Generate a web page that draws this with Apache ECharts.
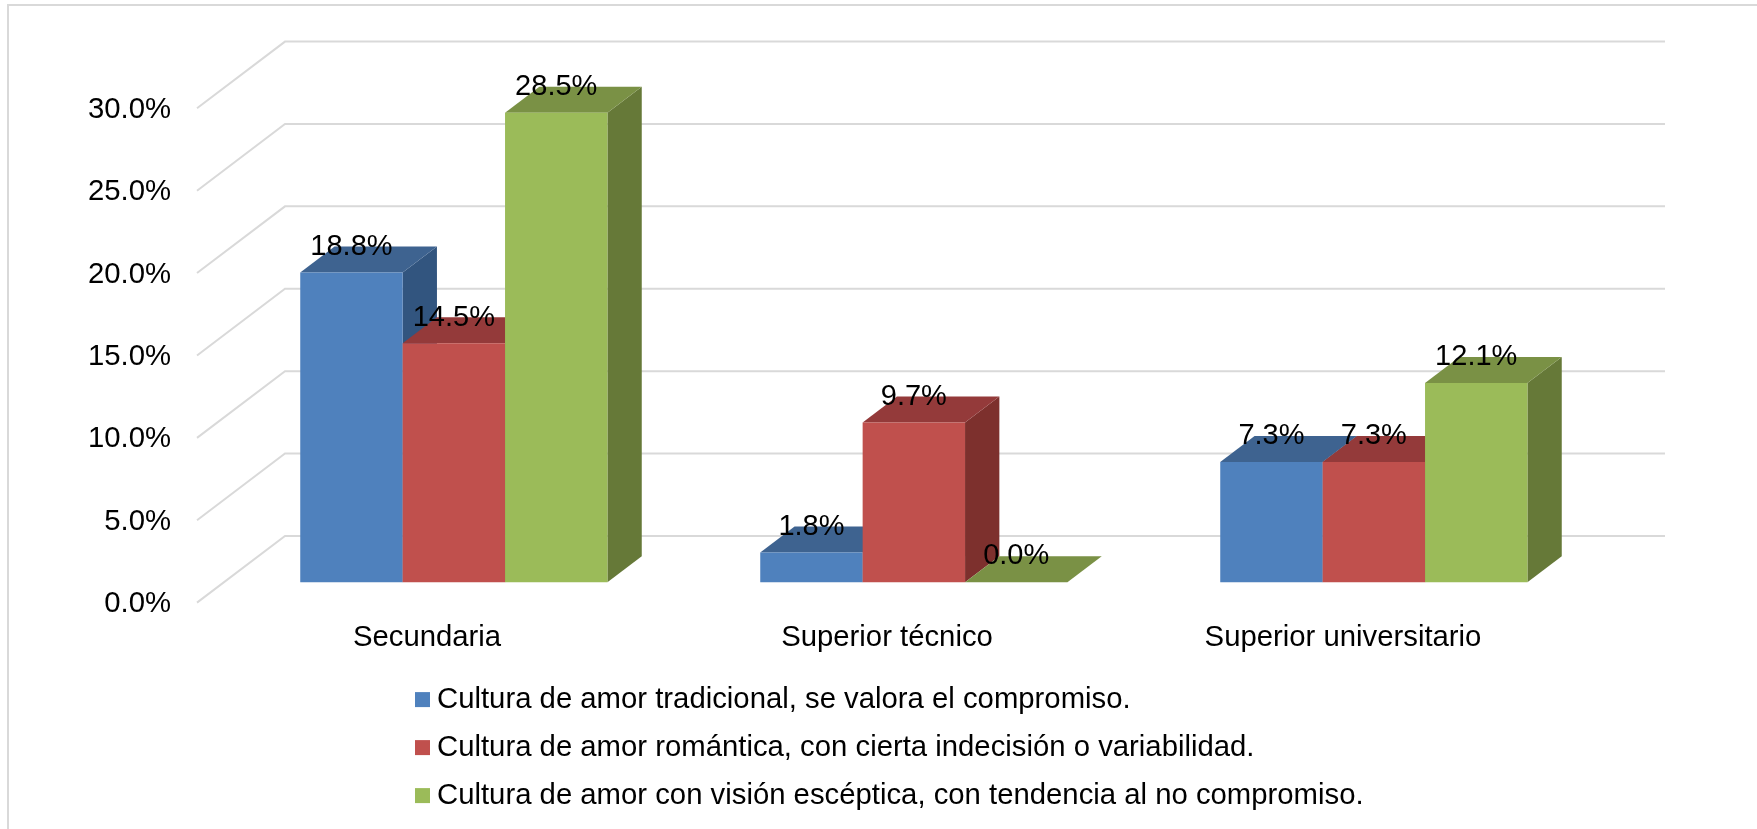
<!DOCTYPE html>
<html>
<head>
<meta charset="utf-8">
<title>Cultura de amor</title>
<script src="https://cdn.jsdelivr.net/npm/echarts@6/dist/echarts.min.js"></script>
<style>
    html, body { margin: 0; padding: 0; background: #fff; }
    #frame { position: absolute; left: 7px; top: 4px; right: 0; bottom: 0; border-left: 2px solid #d9d9d9; border-top: 2px solid #d9d9d9; }
    #main { position: absolute; left: 0; top: 0; width: 1757px; height: 829px; }
</style>
</head>
<body>
<div id="frame"></div>
<div id="main"></div>
<script>
const categories = ['Secundaria', 'Superior técnico', 'Superior universitario']
const seriesNames = [
    'Cultura de amor tradicional, se valora el compromiso.',
    'Cultura de amor romántica, con cierta indecisión o variabilidad.',
    'Cultura de amor con visión escéptica, con tendencia al no compromiso.'
]
const tradicional = [18.8, 1.8, 7.3]
const romantica = [14.5, 9.7, 7.3]
const esceptica = [28.5, 0.0, 12.1]
const yTicks = [0, 5, 10, 15, 20, 25, 30]

// front, top and side colours of each bar
const colors = [
    ['#4f81bd', '#3e6390', '#32557f'],
    ['#c0504d', '#943a3a', '#7d302d'],
    ['#9bbb59', '#7a9145', '#667938']
]

// the grid is the front floor edge of the fake 3d box
const wallDx = 88
const wallDy = -66.7
const barPlane = 0.305
const barDepth = 0.39
const barShare = 0.2226
const textSize = 29.3
const labelFont = '29px "Liberation Sans", Arial, sans-serif'
const gridColor = '#d9d9d9'

const chart = echarts.init(document.getElementById('main'))

const renderWall = (params, api) => {
    const sys = params.coordSys
    const front = api.coord([0, api.value(0)])
    const y = front[1]
    return {
        type: 'polyline',
        silent: true,
        shape: {
            points: [
                [sys.x, y],
                [sys.x + wallDx, y + wallDy],
                [sys.x + sys.width + wallDx, y + wallDy]
            ]
        },
        style: { fill: null, stroke: gridColor, lineWidth: 2 }
    }
}

const renderBar = index => (params, api) => {
    const cat = api.value(0)
    const value = api.value(1)
    const top = api.coord([cat, value])
    const base = api.coord([cat, 0])
    const w = api.size([1, 0])[0] * barShare
    const dx = wallDx * barDepth
    const dy = wallDy * barDepth
    const x0 = top[0] + wallDx * barPlane + (index - 1.5) * w
    const x1 = x0 + w
    const yTop = top[1] + wallDy * barPlane
    const yBase = base[1] + wallDy * barPlane
    const [front, upper, side] = colors[index]
    return {
        type: 'group',
        children: [
            {
                type: 'polygon',
                shape: { points: [[x1, yTop], [x1 + dx, yTop + dy], [x1 + dx, yBase + dy], [x1, yBase]] },
                style: { fill: side }
            },
            {
                type: 'polygon',
                shape: { points: [[x0, yTop], [x0 + dx, yTop + dy], [x1 + dx, yTop + dy], [x1, yTop]] },
                style: { fill: upper }
            },
            {
                type: 'rect',
                shape: { x: x0, y: yTop, width: w, height: yBase - yTop },
                style: { fill: front }
            },
            {
                type: 'text',
                z2: 10,
                style: {
                    text: value.toFixed(1) + '%',
                    x: (x0 + x1) / 2,
                    y: yTop - 25.8,
                    align: 'center',
                    verticalAlign: 'middle',
                    font: labelFont,
                    fill: '#000'
                }
            }
        ]
    }
}

const barSeries = [tradicional, romantica, esceptica].map((values, index) => ({
    name: seriesNames[index],
    type: 'custom',
    renderItem: renderBar(index),
    encode: { x: 0, y: 1 },
    itemStyle: { color: colors[index][0] },
    data: values.map((v, i) => [i, v])
}))

const option = {
    animation: false,
    grid: { left: 197, top: 108.3, width: 1380, height: 494.3 },
    xAxis: {
        type: 'category',
        data: categories,
        axisLine: { show: false },
        axisTick: { show: false },
        splitLine: { show: false },
        axisLabel: {
            margin: 21,
            color: '#000',
            fontFamily: 'Liberation Sans',
            fontSize: textSize,
            // the last label sits a little left of its band in the original
            formatter: (v, i) => (i === 2 ? `{last|${v}}` : v),
            rich: {
                last: { fontFamily: 'Liberation Sans', fontSize: textSize, color: '#000', padding: [0, 8, 0, 0] }
            }
        }
    },
    yAxis: {
        type: 'value',
        min: 0,
        max: 30,
        interval: 5,
        axisLine: { show: false },
        axisTick: { show: false },
        splitLine: { show: false },
        axisLabel: {
            margin: 26,
            color: '#000',
            fontFamily: 'Liberation Sans',
            fontSize: textSize,
            // top alignment with a negative pad nudges the labels down a bit
            verticalAlign: 'top',
            padding: [-13, 0, 0, 0],
            formatter: v => v.toFixed(1) + '%'
        }
    },
    legend: {
        data: seriesNames,
        orient: 'vertical',
        left: 415,
        top: 684.6,
        padding: 0,
        itemWidth: 15,
        itemHeight: 15,
        itemGap: 18,
        icon: 'rect',
        textStyle: {
            color: '#000',
            fontFamily: 'Liberation Sans',
            fontSize: textSize,
            lineHeight: 30,
            padding: [0, 0, 0, 2]
        }
    },
    series: [
        {
            type: 'custom',
            renderItem: renderWall,
            encode: { y: 0 },
            silent: true,
            data: yTicks.map(v => [v])
        },
        ...barSeries
    ]
}

chart.setOption(option)
</script>
</body>
</html>
